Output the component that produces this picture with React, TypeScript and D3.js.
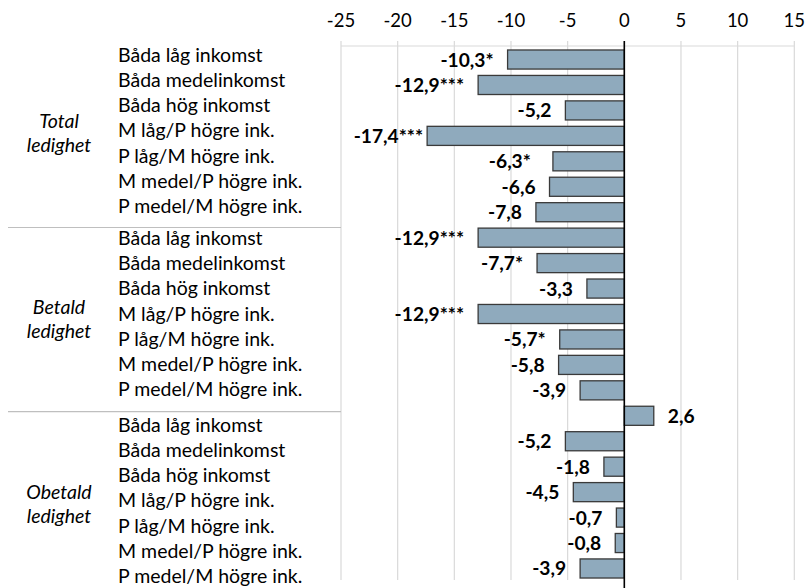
import React from "react";
import * as d3 from "d3";

const categories = [
  "Båda låg inkomst",
  "Båda medelinkomst",
  "Båda hög inkomst",
  "M låg/P högre ink.",
  "P låg/M högre ink.",
  "M medel/P högre ink.",
  "P medel/M högre ink.",
];
const groupLines = [
  ["Total", "ledighet"],
  ["Betald", "ledighet"],
  ["Obetald", "ledighet"],
];
const totalValues = [-10.3, -12.9, -5.2, -17.4, -6.3, -6.6, -7.8];
const totalSig = ["*", "***", "", "***", "*", "", ""];
const betaldValues = [-12.9, -7.7, -3.3, -12.9, -5.7, -5.8, -3.9];
const betaldSig = ["***", "*", "", "***", "*", "", ""];
const obetaldValues = [2.6, -5.2, -1.8, -4.5, -0.7, -0.8, -3.9];
const obetaldSig = ["", "", "", "", "", "", ""];
const xTicks = [-25, -20, -15, -10, -5, 0, 5, 10, 15];

const W = 807;
const H = 588;
const FONT = "Lato, 'Open Sans', sans-serif";

export default function App() {
  const groupValues = [totalValues, betaldValues, obetaldValues];
  const groupSig = [totalSig, betaldSig, obetaldSig];
  const rows = groupValues.flatMap((vals, g) =>
    vals.map((v, i) => ({ key: `${g}-${i}`, g, i, v, sig: groupSig[g][i] }))
  );

  const x = d3.scaleLinear().domain([-25, 15]).range([341, 794.3]);
  const y = d3
    .scaleBand<string>()
    .domain(rows.map((r) => r.key))
    .range([46.8, 581.2])
    .paddingInner(0.25)
    .paddingOuter(0.125);

  const fmt = (v: number) => d3.format(".1f")(v).replace(".", ",").replace("−", "-");

  // left table layout
  const groupBase = [61.7, 245, 431.7];
  const rowPitch = 25.2;
  const groupTitleBase = [128.3, 314.3, 499.3];
  const dividerY = [227.5, 411.7];

  const axisY = 46;
  const gridBottom = 580;

  // manual label adjustments as in the reference
  const labelGap = (r: { g: number; i: number }) => {
    if (r.g === 0 && r.i === 3) return 4;
    if (r.g === 0 && r.i === 4) return 22;
    return 14;
  };

  return (
    <svg
      width={W}
      height={H}
      style={{ position: "absolute", left: 0, top: 0, background: "#fff" }}
      fontFamily={FONT}
    >
      {/* gridlines */}
      {xTicks.map((t) => (
        <line
          key={`g${t}`}
          x1={x(t)}
          x2={x(t)}
          y1={axisY - 5}
          y2={gridBottom}
          stroke="#d9d9d9"
          strokeWidth={1.2}
        />
      ))}
      <line x1={x(-25)} x2={x(15)} y1={axisY} y2={axisY} stroke="#d9d9d9" strokeWidth={1.2} />
      {xTicks.map((t) => (
        <text
          key={`t${t}`}
          x={x(t)}
          y={26.5}
          textAnchor="middle"
          fontSize={18.5}
          fill="#000"
        >
          {t}
        </text>
      ))}

      {/* dividers */}
      {dividerY.map((dy) => (
        <line key={`d${dy}`} x1={8} x2={x(-25)} y1={dy} y2={dy} stroke="#bfbfbf" strokeWidth={1.2} />
      ))}

      {/* left labels */}
      {groupValues.map((vals, g) =>
        categories.map((c, i) => (
          <text
            key={`c${g}-${i}`}
            x={118}
            y={groupBase[g] + i * rowPitch}
            fontSize={19.5}
            fill="#000"
          >
            {c}
          </text>
        ))
      )}
      {groupLines.map((lines, g) =>
        lines.map((l, k) => (
          <text
            key={`gl${g}-${k}`}
            x={59}
            y={groupTitleBase[g] + k * 23.8}
            textAnchor="middle"
            fontStyle="italic"
            fontSize={19.5}
            fill="#000"
          >
            {l}
          </text>
        ))
      )}

      {/* bars */}
      {rows.map((r) => (
        <rect
          key={`b${r.key}`}
          x={Math.min(x(r.v), x(0))}
          y={y(r.key)}
          width={Math.abs(x(r.v) - x(0))}
          height={y.bandwidth()}
          fill="#8faabd"
          stroke="#3a3a3a"
          strokeWidth={1.3}
        />
      ))}

      {/* zero line */}
      <line x1={x(0)} x2={x(0)} y1={axisY - 5} y2={H} stroke="#000" strokeWidth={1.6} />

      {/* value labels */}
      {rows.map((r) => {
        const neg = r.v < 0;
        const gap = labelGap(r);
        return (
          <text
            key={`v${r.key}`}
            x={neg ? x(r.v) - gap : x(r.v) + gap}
            y={(y(r.key) as number) + y.bandwidth() / 2 + 7}
            textAnchor={neg ? "end" : "start"}
            fontWeight="bold"
            fontSize={19.2}
            fill="#000"
          >
            {fmt(r.v) + r.sig}
          </text>
        );
      })}
    </svg>
  );
}
